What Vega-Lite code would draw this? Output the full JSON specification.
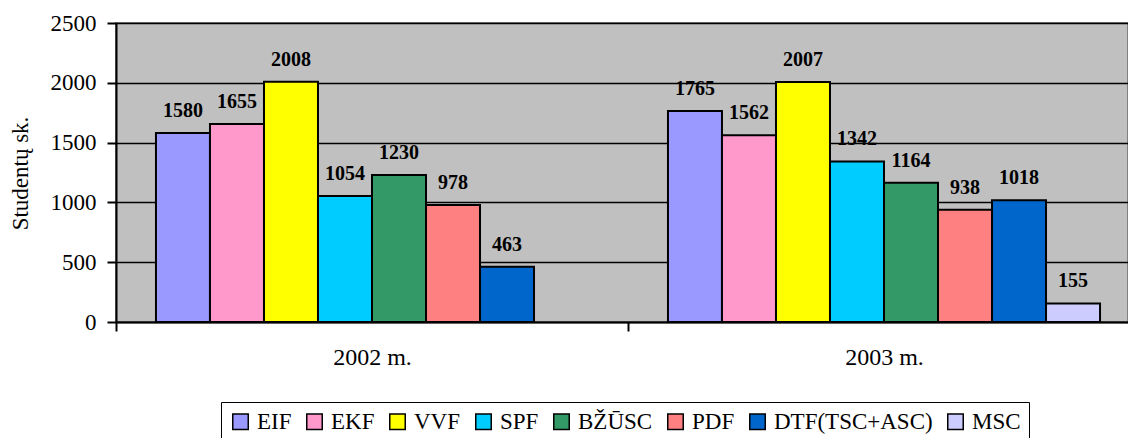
{
  "$schema": "https://vega.github.io/schema/vega-lite/v6.json",
  "autosize": "none",
  "padding": {"left": 116, "top": 23, "right": 0, "bottom": 116},
  "width": 1012,
  "height": 299,
  "background": "white",
  "data": {
    "values": [
      {"year": "2002 m.", "fac": "EIF", "n": 1580},
      {"year": "2002 m.", "fac": "EKF", "n": 1655},
      {"year": "2002 m.", "fac": "VVF", "n": 2008},
      {"year": "2002 m.", "fac": "SPF", "n": 1054},
      {"year": "2002 m.", "fac": "BŽŪSC", "n": 1230},
      {"year": "2002 m.", "fac": "PDF", "n": 978},
      {"year": "2002 m.", "fac": "DTF(TSC+ASC)", "n": 463},
      {"year": "2003 m.", "fac": "EIF", "n": 1765},
      {"year": "2003 m.", "fac": "EKF", "n": 1562},
      {"year": "2003 m.", "fac": "VVF", "n": 2007},
      {"year": "2003 m.", "fac": "SPF", "n": 1342},
      {"year": "2003 m.", "fac": "BŽŪSC", "n": 1164},
      {"year": "2003 m.", "fac": "PDF", "n": 938},
      {"year": "2003 m.", "fac": "DTF(TSC+ASC)", "n": 1018},
      {"year": "2003 m.", "fac": "MSC", "n": 155}
    ]
  },
  "encoding": {
    "x": {
      "field": "year", "type": "nominal",
      "scale": {"range": [0, 1024], "paddingInner": 0, "paddingOuter": 0},
      "axis": {
        "title": null, "labelAngle": 0, "tickBand": "extent",
        "labelFont": "Liberation Serif", "labelFontSize": 24, "labelColor": "black",
        "labelPadding": 14, "tickSize": 9, "tickWidth": 2, "tickColor": "black",
        "domainColor": "black", "domainWidth": 2, "grid": false
      }
    },
    "xOffset": {
      "field": "fac", "type": "nominal",
      "scale": {"domain": ["EIF", "EKF", "VVF", "SPF", "BŽŪSC", "PDF", "DTF(TSC+ASC)", "MSC"], "paddingInner": 0, "paddingOuter": 0.74}
    },
    "y": {
      "field": "n", "type": "quantitative",
      "scale": {"domain": [0, 2500], "nice": false},
      "axis": {
        "title": "Studentų sk.", "values": [0, 500, 1000, 1500, 2000, 2500], "format": "d",
        "titleFont": "Liberation Serif", "titleFontSize": 23, "titleFontWeight": "normal", "titleColor": "black",
        "titleX": -96, "titleY": 150, "titleAlign": "center", "titleAngle": -90, "titleBaseline": "middle",
        "labelFont": "Liberation Serif", "labelFontSize": 23, "labelColor": "black", "labelPadding": 11,
        "tickSize": 9, "tickWidth": 2, "tickColor": "black",
        "domainColor": "black", "domainWidth": 2,
        "grid": true, "gridColor": "black", "gridWidth": 1.5
      }
    }
  },
  "layer": [
    {
      "mark": {"type": "bar", "stroke": "black", "strokeWidth": 2, "opacity": 1},
      "encoding": {
        "color": {
          "field": "fac", "type": "nominal",
          "scale": {
            "domain": ["EIF", "EKF", "VVF", "SPF", "BŽŪSC", "PDF", "DTF(TSC+ASC)", "MSC"],
            "range": ["#9999FF", "#FF99CC", "#FFFF00", "#00CCFF", "#339966", "#FF8080", "#0066CC", "#CCCCFF"]
          },
          "legend": {
            "title": null, "orient": "none", "direction": "horizontal",
            "legendX": 105, "legendY": 379,
            "strokeColor": "black", "padding": 8, "fillColor": "white",
            "symbolType": "square", "symbolSize": 240, "symbolStrokeColor": "black", "symbolStrokeWidth": 1.5, "symbolOpacity": 1,
            "labelFont": "Liberation Serif", "labelFontSize": 23, "labelColor": "black", "labelOffset": 5,
            "labelLimit": 400, "columnPadding": 11
          }
        }
      }
    },
    {
      "mark": {"type": "text", "font": "Liberation Serif", "fontWeight": "bold", "fontSize": 20, "baseline": "alphabetic", "dy": -16, "color": "black"},
      "encoding": {"text": {"field": "n", "type": "quantitative"}}
    }
  ],
  "config": {
    "view": {"fill": "#C0C0C0", "stroke": "#808080", "strokeWidth": 2}
  }
}
